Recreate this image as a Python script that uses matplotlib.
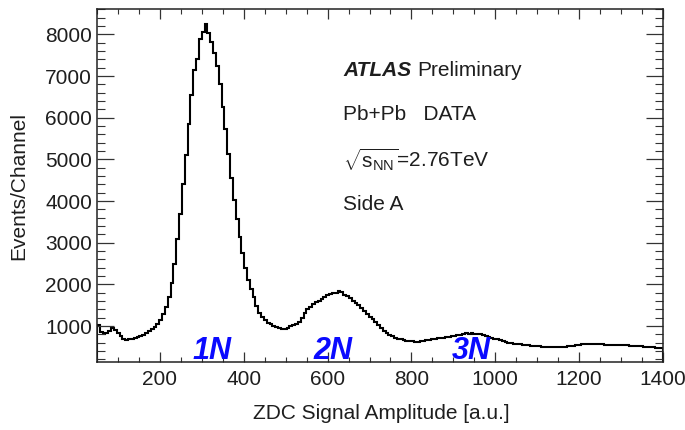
import numpy as np
import matplotlib
matplotlib.use("Agg")
import matplotlib.pyplot as plt
from matplotlib.ticker import MultipleLocator
import matplotlib.transforms as mtransforms

plt.rcParams["font.family"] = ["Liberation Sans", "DejaVu Sans"]
plt.rcParams["mathtext.fontset"] = "custom"
plt.rcParams["mathtext.rm"] = "Liberation Sans"
plt.rcParams["mathtext.it"] = "Liberation Sans:italic"
plt.rcParams["mathtext.bf"] = "Liberation Sans:bold"

# ZDC signal amplitude histogram (Side A): 200 channels spanning 50-1400 a.u.
amp_min = 50
amp_max = 1400
counts = [
    1020, 850, 820, 840, 880, 950, 900, 830, 760, 690,
    665, 680, 700, 725, 740, 770, 790, 830, 880, 930,
    980, 1060, 1150, 1290, 1450, 1700, 2040, 2500, 3080, 3700,
    4400, 5100, 5850, 6550, 7150, 7400, 7900, 8060, 8250, 8040,
    7820, 7560, 7240, 6800, 6250, 5720, 5120, 4560, 4020, 3560,
    3150, 2750, 2400, 2100, 1900, 1700, 1480, 1320, 1220, 1140,
    1080, 1040, 1000, 975, 950, 925, 940, 960, 1000, 1030,
    1060, 1110, 1190, 1310, 1400, 1470, 1520, 1570, 1610, 1660,
    1710, 1750, 1770, 1800, 1790, 1850, 1820, 1750, 1720, 1670,
    1600, 1550, 1500, 1440, 1370, 1300, 1230, 1160, 1100, 1030,
    960, 890, 840, 790, 755, 720, 700, 680, 665, 655,
    640, 635, 625, 620, 640, 645, 660, 670, 685, 690,
    705, 715, 725, 740, 745, 755, 770, 780, 795, 810,
    825, 815, 835, 810, 820, 800, 785, 765, 745, 720,
    700, 685, 665, 645, 625, 605, 590, 575, 565, 560,
    550, 545, 545, 535, 530, 525, 520, 510, 505, 500,
    490, 495, 500, 495, 505, 510, 520, 525, 535, 540,
    550, 560, 565, 570, 565, 575, 570, 560, 565, 555,
    550, 545, 550, 545, 540, 545, 540, 545, 535, 530,
    525, 520, 520, 510, 505, 495, 490, 485, 480, 475,
]

# Neutron-peak labels and their amplitude positions
peak_labels = ["1N", "2N", "3N"]
peak_positions = [324, 613, 942]

x_ticks = [200, 400, 600, 800, 1000, 1200, 1400]
y_ticks = [1000, 2000, 3000, 4000, 5000, 6000, 7000, 8000]

W, H = 685, 430
fig = plt.figure(figsize=(W / 100, H / 100), dpi=100)
ax = fig.add_axes([97 / W, 1 - 362 / H, (663 - 97) / W, (362 - 9) / H])

edges = np.linspace(amp_min, amp_max, len(counts) + 1)
ax.stairs(counts, edges, color="black", linewidth=1.5)

ax.set_xlim(amp_min, amp_max)
ax.set_ylim(140, 8610)

ax.set_xticks(x_ticks)
ax.set_yticks(y_ticks)
ax.xaxis.set_minor_locator(MultipleLocator(50))
ax.yaxis.set_minor_locator(MultipleLocator(200))

txt_col = "#1e1e1e"
ax.tick_params(axis="both", which="both", direction="in", top=True, right=True,
               colors="#333333", labelcolor=txt_col, labelsize=15)
ax.tick_params(axis="x", which="major", length=7.2, width=0.9, pad=6)
ax.tick_params(axis="x", which="minor", length=3.6, width=0.8)
ax.tick_params(axis="y", which="major", length=11.9, width=0.9, pad=3.5)
ax.tick_params(axis="y", which="minor", length=6.0, width=0.8)
for sp in ax.spines.values():
    sp.set_linewidth(1.1)
    sp.set_color("#222222")

ax.set_xlabel("ZDC Signal Amplitude [a.u.]", fontsize=15, color=txt_col)
ax.set_ylabel("Events/Channel", fontsize=15, color=txt_col)
ax.xaxis.set_label_coords(0.503, -0.118)
ax.yaxis.set_label_coords(-0.122, 0.5)

# Peak labels
blend = mtransforms.blended_transform_factory(ax.transData, ax.transAxes)
for lab, xp in zip(peak_labels, peak_positions):
    ax.text(xp, 0.008, lab, transform=blend, ha="center", va="baseline",
            fontsize=22, fontweight="bold", fontstyle="italic", color="#0a0aff")

# Header text block
x0 = 343 / W
fig.canvas.draw()
t_atlas = fig.text(x0, 1 - 70 / H, "ATLAS", fontsize=15, fontweight="bold",
                   fontstyle="italic", va="center", ha="left", color=txt_col)
renderer = fig.canvas.get_renderer()
bb = t_atlas.get_window_extent(renderer=renderer)
fig.text((bb.x1 + 6) / W, 1 - 70 / H, "Preliminary", fontsize=15,
         va="center", ha="left", color=txt_col)
fig.text(x0, 1 - 114 / H, "Pb+Pb   DATA", fontsize=15, va="center",
         ha="left", color=txt_col)
fig.text(x0, 1 - 160 / H, r"$\sqrt{\mathrm{s}_{\mathrm{NN}}}$=2.76TeV",
         fontsize=15, va="center", ha="left", color=txt_col)
fig.text(x0, 1 - 204 / H, "Side A", fontsize=15, va="center",
         ha="left", color=txt_col)

fig.savefig("out.png", dpi=100)
